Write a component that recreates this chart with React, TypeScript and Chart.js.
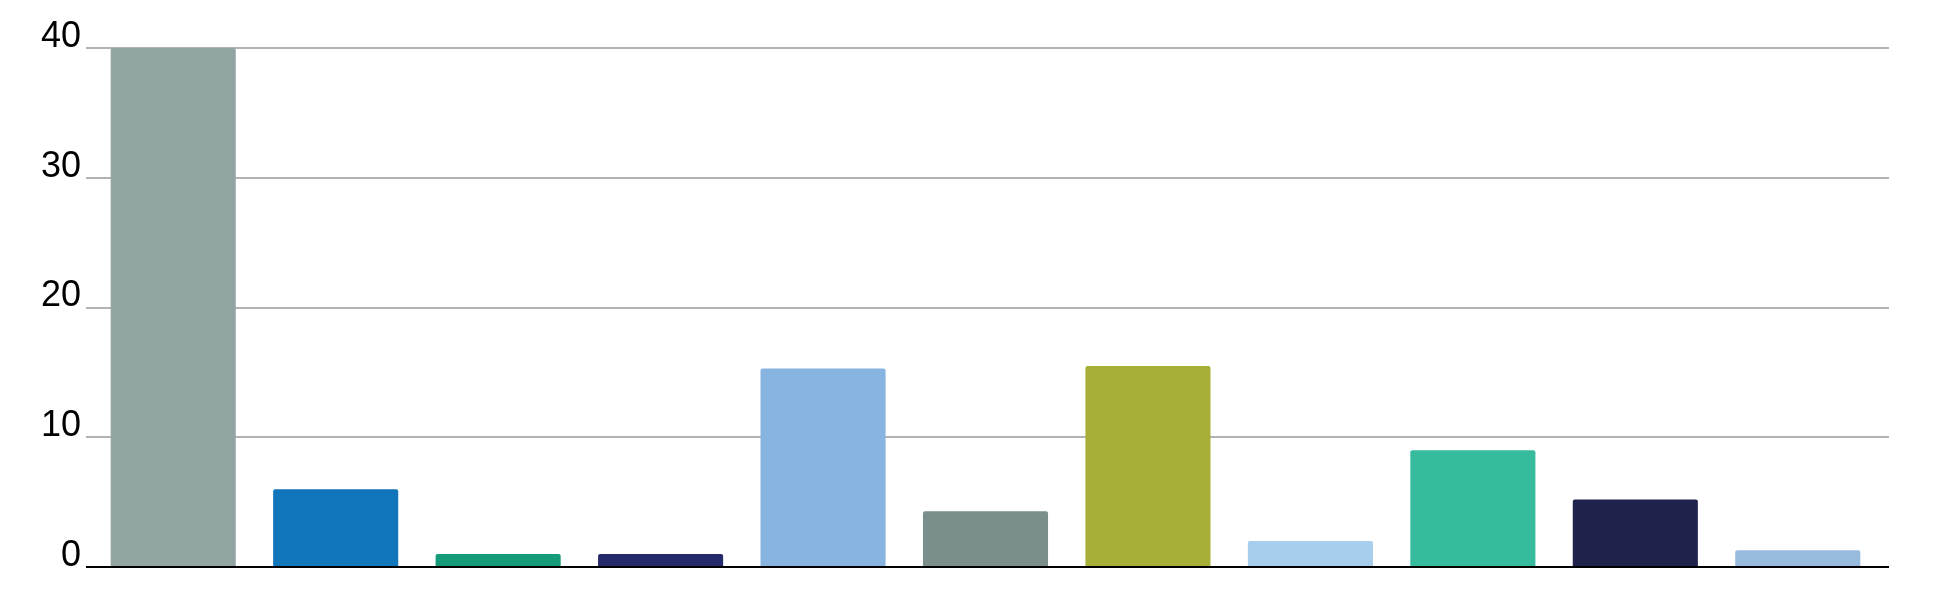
import React, { useEffect, useRef } from "react";
import { Chart, registerables } from "chart.js";

Chart.register(...registerables);

const categories = ["1", "2", "3", "4", "5", "6", "7", "8", "9", "10", "11"];
const values = [40, 6, 1, 1, 15.3, 4.3, 15.5, 2, 9, 5.2, 1.3];
const barColors = [
  "#92A5A3",
  "#1175BC",
  "#169B7A",
  "#272A6A",
  "#87B4E0",
  "#7A8F8B",
  "#A7AF39",
  "#A7CEED",
  "#36BC9D",
  "#1F234B",
  "#98BBDD",
];
const yTicks = [0, 10, 20, 30, 40];

const GRID_GREY = "#b1b3b5";
const GRID_WIDTH = 2;

function alignPx(p: number, w: number) {
  const h = w / 2;
  return Math.round(p - h) + h;
}

const extendLines = {
  id: "extendLines",
  afterDatasetsDraw(chart: any) {
    const { ctx, chartArea, scales } = chart;
    const y = scales.y;
    ctx.save();
    for (const v of yTicks) {
      const raw = y.getPixelForValue(v);
      if (v === 0) {
        const py = alignPx(raw, 2);
        ctx.strokeStyle = "#000000";
        ctx.lineWidth = 2;
        ctx.beginPath();
        ctx.moveTo(chartArea.left - 6, py);
        ctx.lineTo(chartArea.right + 10, py);
        ctx.stroke();
      } else {
        const py = alignPx(raw, GRID_WIDTH);
        ctx.strokeStyle = GRID_GREY;
        ctx.lineWidth = GRID_WIDTH;
        ctx.beginPath();
        ctx.moveTo(chartArea.right, py);
        ctx.lineTo(chartArea.right + 10, py);
        ctx.stroke();
      }
    }
    ctx.restore();
  },
};

export default function App() {
  const ref = useRef<HTMLCanvasElement | null>(null);

  useEffect(() => {
    if (!ref.current) return;
    const chart = new Chart(ref.current, {
      type: "bar",
      data: {
        labels: categories,
        datasets: [
          {
            data: values,
            backgroundColor: barColors,
            borderRadius: { topLeft: 2, topRight: 2, bottomLeft: 0, bottomRight: 0 },
            borderSkipped: "bottom",
            categoryPercentage: 1,
            barPercentage: 0.77,
          },
        ],
      },
      options: {
        responsive: false,
        animation: false,
        devicePixelRatio: 1,
        layout: { padding: { top: 48, bottom: 29, left: 0, right: 69 } },
        plugins: {
          legend: { display: false },
          tooltip: { enabled: false },
        },
        scales: {
          x: {
            display: false,
            offset: true,
          },
          y: {
            min: 0,
            max: 40,
            afterFit: (scale: any) => {
              scale.width = 92;
            },
            afterBuildTicks: (scale: any) => {
              scale.ticks = yTicks.map((v) => ({ value: v }));
            },
            border: { display: false },
            grid: {
              color: (c: any) => (c.tick && c.tick.value === 0 ? "#000000" : GRID_GREY),
              lineWidth: (c: any) => (c.tick && c.tick.value === 0 ? 2 : GRID_WIDTH),
              tickLength: 6,
              drawTicks: true,
            },
            ticks: {
              color: "#000000",
              padding: 5,
              labelOffset: -11,
              font: { family: "Arial, 'Liberation Sans', sans-serif", size: 36 },
            },
          },
        },
      },
      plugins: [extendLines],
    });
    return () => chart.destroy();
  }, []);

  return (
    <div style={{ position: "absolute", left: 0, top: 0, width: 1948, height: 596, background: "#ffffff" }}>
      <canvas ref={ref} width={1948} height={596} style={{ display: "block" }} />
    </div>
  );
}
